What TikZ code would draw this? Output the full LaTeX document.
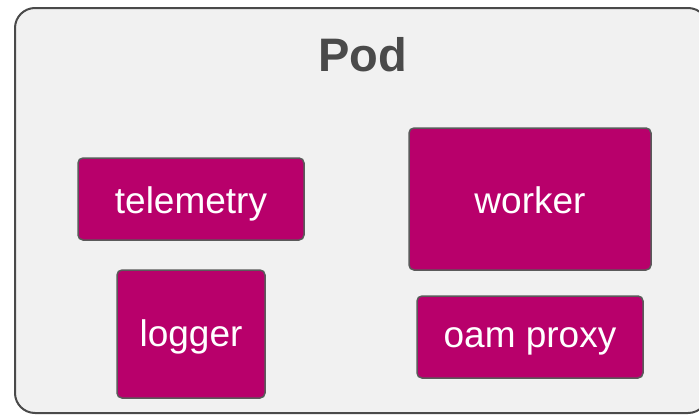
\documentclass[tikz,border=0pt]{standalone}
\usepackage{fontspec}
\setmainfont{Liberation Sans}
\definecolor{podfill}{HTML}{F1F1F1}
\definecolor{podline}{HTML}{4A4A4A}
\definecolor{boxfill}{HTML}{B8006B}
\definecolor{boxline}{HTML}{5A5A5A}
\definecolor{titlecol}{HTML}{4A4A4A}
\tikzset{
  container/.style={rounded corners=20pt, fill=podfill, draw=podline, line width=2pt},
  box/.style={rounded corners=5pt, fill=boxfill, draw=boxline, line width=1.5pt},
  boxtext/.style={text=white, font=\fontsize{37}{40}\selectfont, inner sep=0pt, anchor=base},
}
\begin{document}
\begin{tikzpicture}[x=1pt, y=-1pt]
  \useasboundingbox (0,0) rectangle (699,415);
  \begin{scope}
    \clip (0,0) rectangle (699,415);
    \draw[container] (15,8) rectangle (708,413);
  \end{scope}
  \node[font=\bfseries\fontsize{47}{50}\selectfont, text=titlecol, inner sep=0pt, anchor=base] (title) at (362.5,71) {Pod};

  \draw[box] (78,158) rectangle (304,240);
  \node[boxtext] (telemetry) at (191,213) {telemetry};

  \draw[box] (117,270) rectangle (265,398);
  \node[boxtext] (logger) at (191,346) {logger};

  \draw[box] (409,128) rectangle (651,270);
  \node[boxtext] (worker) at (530,213) {worker};

  \draw[box] (417,296) rectangle (643,378);
  \node[boxtext] (oam) at (530,347) {oam proxy};
\end{tikzpicture}
\end{document}
